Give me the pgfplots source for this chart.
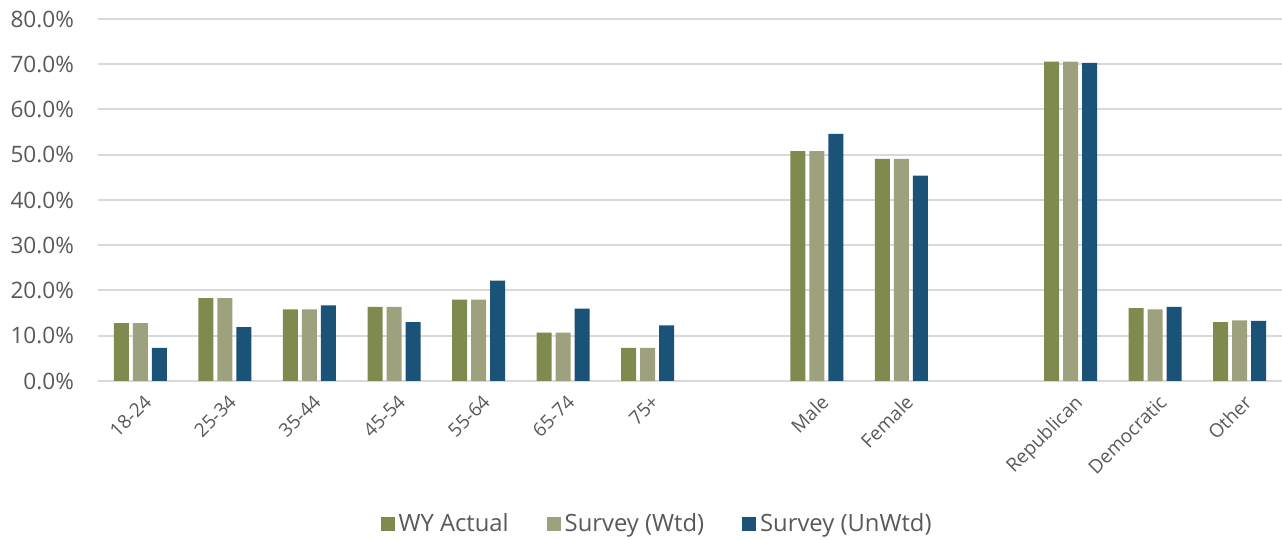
\documentclass[border=0pt]{standalone}
\usepackage{pgfplots}
\pgfplotsset{compat=1.18}
\usepackage{fontspec}
\setmainfont{Open Sans}

\definecolor{wyact}{HTML}{7F8A4E}
\definecolor{survwtd}{HTML}{9EA17D}
\definecolor{survunw}{HTML}{1B5278}
\definecolor{gridgray}{HTML}{D9D9D9}
\definecolor{txtgray}{HTML}{595959}

\begin{document}
\begin{tikzpicture}
\begin{axis}[
    scale only axis,
    width=592pt, height=181pt,
    ybar=2pt,
    bar width=7.5pt,
    xmin=-0.5, xmax=13.5,
    ymin=0, ymax=80,
    ytick={0,10,...,80},
    yticklabel={\pgfmathprintnumber[fixed,fixed zerofill,precision=1]{\tick}\%},
    /pgf/number format/assume math mode=true,
    xtick={0,1,2,3,4,5,6,8,9,11,12,13},
    xticklabels={18-24,25-34,35-44,45-54,55-64,65-74,75+,Male,Female,Republican,Democratic,Other},
    xticklabel style={rotate=45, anchor=north east, font=\fontsize{9.5}{10}\selectfont, text=txtgray, yshift=-2pt},
    yticklabel style={font=\fontsize{11.3}{13}\selectfont, text=txtgray, xshift=-8.5pt},
    axis line style={draw=none},
    major tick length=0pt,
    ymajorgrids=true,
    grid style={gridgray, line width=1pt},
    legend style={at={(0.473,-0.395)}, anchor=center, draw=none, legend columns=-1,
        font=\fontsize{11.9}{13}\selectfont, text=txtgray,
        /tikz/every even column/.append style={column sep=17pt}},
    legend image code/.code={\fill[#1] (0pt,-3.5pt) rectangle (7pt,3.5pt);},
]
\addplot[fill=wyact, draw=none] coordinates {
    (0,12.8)(1,18.3)(2,15.8)(3,16.4)(4,18.0)(5,10.7)(6,7.3)
    (8,50.8)(9,49.1)(11,70.6)(12,16.1)(13,13.0)
};
\addlegendentry{WY Actual}
\addplot[fill=survwtd, draw=none] coordinates {
    (0,12.8)(1,18.3)(2,15.8)(3,16.4)(4,18.0)(5,10.7)(6,7.3)
    (8,50.8)(9,49.1)(11,70.6)(12,15.8)(13,13.4)
};
\addlegendentry{Survey (Wtd)}
\addplot[fill=survunw, draw=none] coordinates {
    (0,7.3)(1,11.9)(2,16.7)(3,13.0)(4,22.2)(5,16.0)(6,12.3)
    (8,54.6)(9,45.4)(11,70.3)(12,16.4)(13,13.3)
};
\addlegendentry{Survey (UnWtd)}
\end{axis}
\pgfresetboundingbox
\path ([xshift=-49pt,yshift=-79.5pt]current axis.south west) rectangle ([yshift=9.5pt]current axis.north east);
\end{tikzpicture}
\end{document}
